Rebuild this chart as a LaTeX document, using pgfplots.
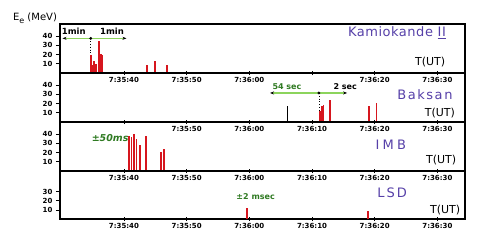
\documentclass[border=0pt]{standalone}
\usepackage{fontspec}
\setmainfont{DejaVu Sans}
\usepackage{pgfplots}
\pgfplotsset{compat=1.18}
\usetikzlibrary{arrows.meta}

\definecolor{barred}{HTML}{D6161E}
\definecolor{labpurple}{HTML}{5640A8}
\definecolor{annogreen}{HTML}{2F7A22}
\definecolor{linegreen}{HTML}{8CD45C}

\newcommand{\tickfont}{\bfseries\fontsize{7}{7}\selectfont}
\newcommand{\detfont}{\fontsize{13}{13}\selectfont}
\newcommand{\tut}{\node[font=\fontsize{11}{11}\selectfont] }

\pgfplotsset{
  panel/.style={
    scale only axis, width=405pt, height=49pt,
    anchor=north west,
    xmin=29.8, xmax=94.4, ymin=0, ymax=53,
    xtick={40,50,60,70,80,90},
    ytick={10,20,30,40},
    xtick pos=bottom, ytick pos=left,
    xtick align=center, ytick align=outside,
    major tick length=4pt,
    tick style={black, line width=0.8pt},
    axis line style={line width=1.1pt},
    x tick label style={font=\tickfont, yshift=1pt},
    y tick label style={font=\tickfont},
    /pgf/number format/assume math mode=true,
    clip=false,
  },
  evt/.style={ycomb, barred, line width=1.6pt, no markers},
}

\begin{document}
\begin{tikzpicture}
% Kamiokande II
\begin{axis}[panel, at={(60pt,-24pt)},
  xticklabels={7:35:40,7:35:50,7:36:00,,7:36:20,7:36:30}]
  \addplot[evt] coordinates {(34.7,20) (35.0,9) (35.25,13) (35.5,10)
    (36.05,35) (36.3,21) (36.6,20) (43.7,9) (45.0,13) (46.9,8.5)};
  \addplot[linegreen, line width=1.3pt,
    {Stealth[black,length=4pt]}-{Stealth[black,length=4pt]}]
    coordinates {(30.2,37.5) (40.4,37.5)};
  \addplot[black, dotted, line width=0.8pt] coordinates {(34.7,37.5) (34.7,20)};
  \addplot[only marks, mark=*, mark size=1.2pt, black] coordinates {(34.7,37.5)};
  \node[font=\bfseries\fontsize{8.5}{9}\selectfont] at (axis cs:32.0,45) {1min};
  \node[font=\bfseries\fontsize{8.5}{9}\selectfont] at (axis cs:38.1,45) {1min};
  \node[font=\detfont, text=labpurple] at (rel axis cs:0.832,0.816)
    {\addfontfeatures{LetterSpace=4}Kamiokande \underline{II}};
  \tut at (rel axis cs:0.914,0.224) {T(UT)};
\end{axis}
% Baksan
\begin{axis}[panel, at={(60pt,-73pt)},
  xticklabels={,7:35:50,7:36:00,7:36:10,7:36:20,7:36:30}]
  \addplot[ycomb, black, line width=0.8pt, no markers] coordinates {(66.0,17)};
  \addplot[evt] coordinates {(71.25,12) (71.6,17.5) (71.85,18) (72.9,23.5)
    (79.1,17.5) (80.3,20.5)};
  \addplot[linegreen, line width=1.3pt,
    {Stealth[black,length=4pt]}-{Stealth[black,length=4pt]}]
    coordinates {(63.3,31.4) (75.6,31.4)};
  \addplot[black, dotted, line width=0.8pt] coordinates {(71.1,31.4) (71.1,12)};
  \addplot[only marks, mark=*, mark size=1.2pt, black] coordinates {(71.1,31.4)};
  \node[font=\bfseries\fontsize{8}{9}\selectfont, text=annogreen] at (axis cs:66.0,38.5) {54 sec};
  \node[font=\bfseries\fontsize{8}{9}\selectfont] at (axis cs:75.3,38.5) {2 sec};
  \node[font=\detfont, text=labpurple] at (rel axis cs:0.901,0.55)
    {\addfontfeatures{LetterSpace=12}Baksan};
  \tut at (rel axis cs:0.938,0.184) {T(UT)};
\end{axis}
% IMB
\begin{axis}[panel, at={(60pt,-122pt)},
  xticklabels={7:35:40,7:35:50,7:36:00,7:36:10,7:36:20,7:36:30}]
  \addplot[evt] coordinates {(40.8,38) (41.2,37) (41.6,40) (42.0,35)
    (42.6,28) (43.5,38) (45.9,21) (46.4,24)};
  \node[font=\bfseries\itshape\fontsize{9.5}{10}\selectfont, text=annogreen]
    at (axis cs:37.8,35.7) {±50ms};
  \node[font=\detfont, text=labpurple] at (rel axis cs:0.817,0.53)
    {\addfontfeatures{LetterSpace=25}IMB};
  \tut at (rel axis cs:0.941,0.224) {T(UT)};
\end{axis}
% LSD
\begin{axis}[panel, at={(60pt,-171pt)}, height=48pt, ytick={10,20,30},
  xticklabels={7:35:40,7:35:50,7:36:00,7:36:10,7:36:20,7:36:30}]
  \addplot[evt] coordinates {(59.6,12) (78.9,9)};
  \node[font=\bfseries\fontsize{8}{9}\selectfont, text=annogreen]
    at (axis cs:61.0,25) {±2 msec};
  \node[font=\detfont, text=labpurple] at (rel axis cs:0.82,0.54)
    {\addfontfeatures{LetterSpace=15}LSD};
  \tut at (rel axis cs:0.951,0.19) {T(UT)};
\end{axis}
\node[font=\fontsize{10}{11}\selectfont] at (35pt,-18pt)
  {E\raisebox{-0.5ex}{\footnotesize e} (MeV)};
\pgfresetboundingbox
\path (0pt,0pt) rectangle (491pt,-244pt);
\end{tikzpicture}
\end{document}
